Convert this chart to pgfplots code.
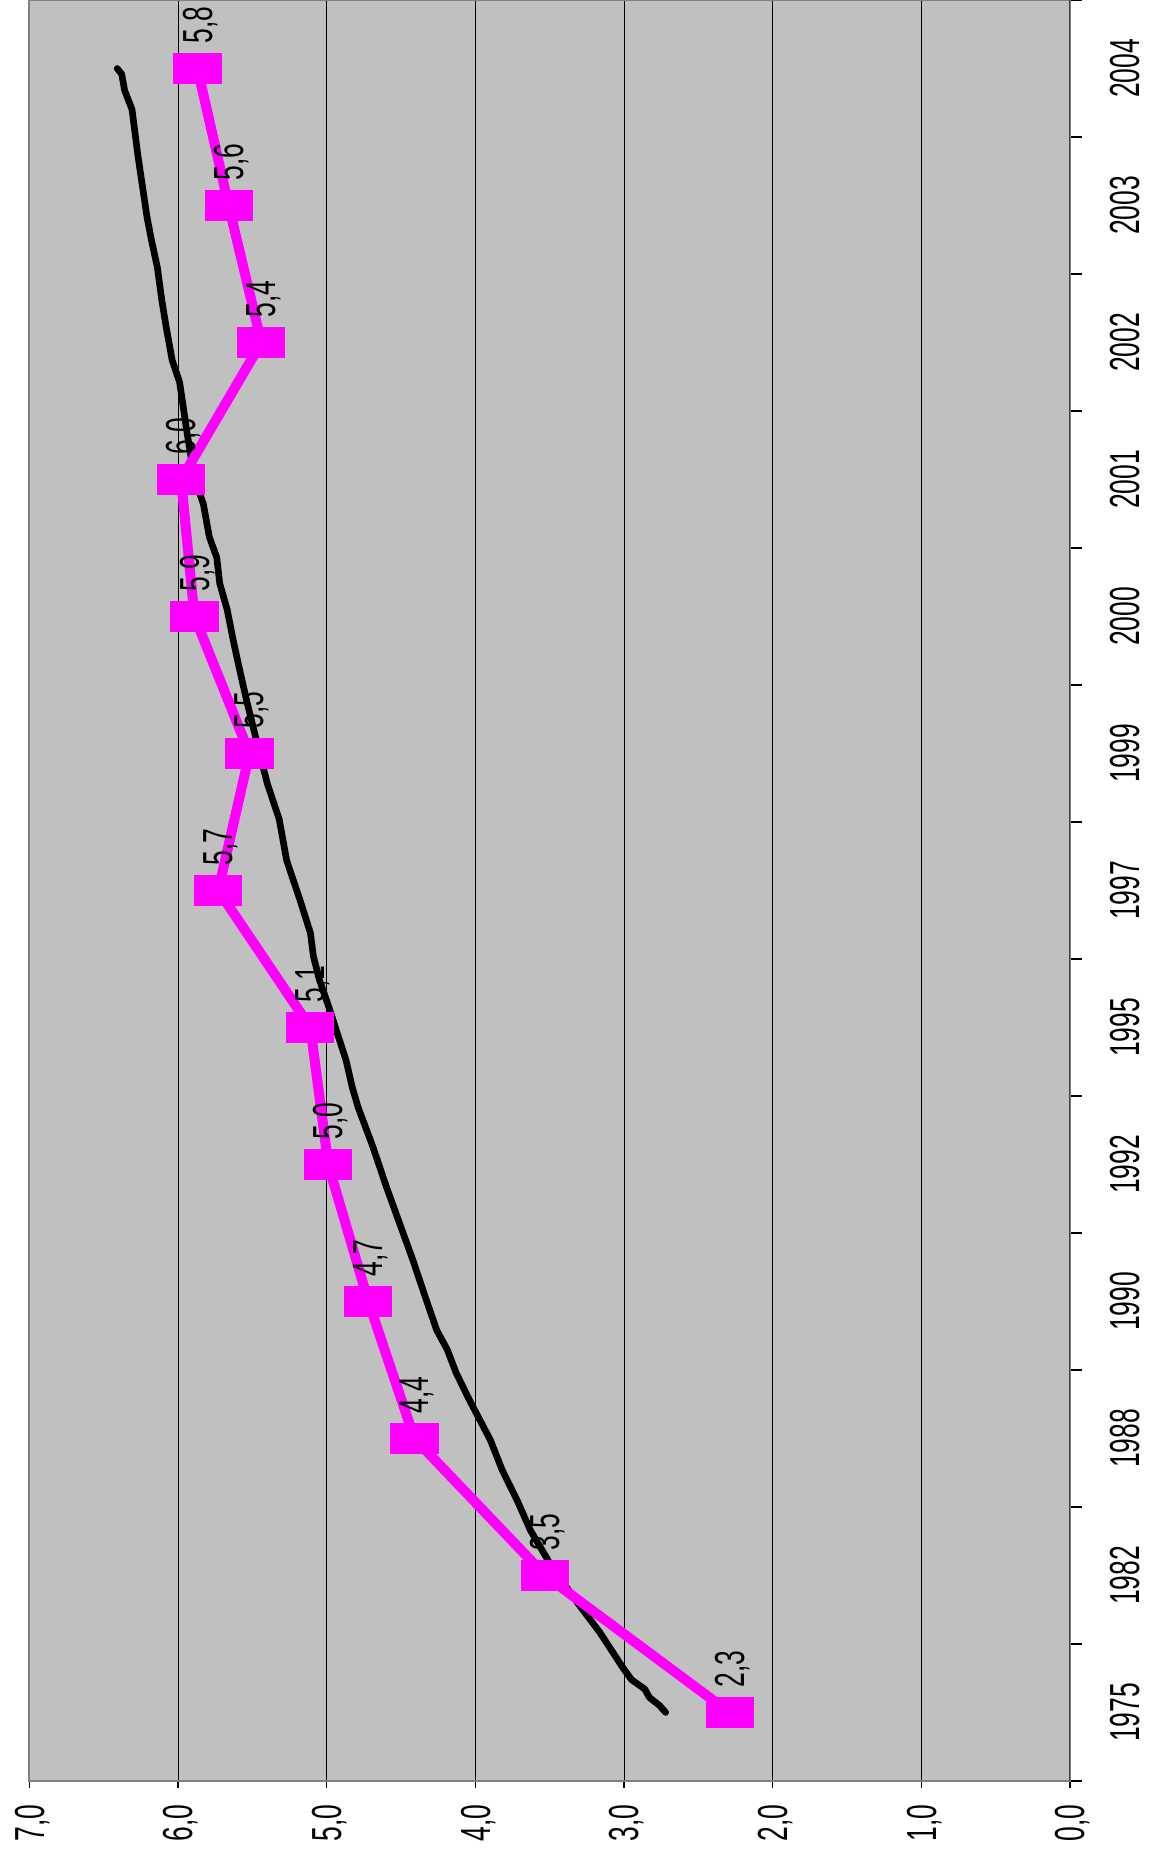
\documentclass[border=0pt]{standalone}
\usepackage{pgfplots}
\pgfplotsset{compat=1.18}
\usepackage{fontspec}
\setmainfont{Liberation Sans}
\definecolor{bg}{HTML}{C0C0C0}
\definecolor{mag}{HTML}{FF00FF}
\definecolor{bord}{HTML}{808080}
\newcommand{\lf}{\fontsize{12.6}{15}\selectfont}
\begin{document}
\begin{tikzpicture}
\useasboundingbox (0,0) rectangle (344.7pt,556.5pt);
\begin{axis}[
  at={(8.85pt,22.2pt)}, anchor=south west,
  scale only axis, width=312.15pt, height=534.3pt,
  xmin=0, xmax=7, x dir=reverse,
  ymin=-0.5, ymax=12.5,
  axis background/.style={fill=bg},
  axis line style={draw=bord, line width=0.6pt},
  xtick={0,1,...,7},
  xmajorgrids, grid style={black, line width=0.3pt},
  tick align=outside,
  xtick pos=left, xticklabel pos=left,
  ytick pos=right, yticklabel pos=right,
  major tick length=2pt, minor tick length=3.6pt,
  tick style={black, line width=0.4pt},
  ytick={0,1,...,12},
  yticklabels={1975,1982,1988,1990,1992,1995,1997,1999,2000,2001,2002,2003,2004},
  minor ytick={-0.5,0.5,...,12.5},
  major y tick style={draw=none},
  /pgf/number format/fixed, /pgf/number format/fixed zerofill,
  /pgf/number format/precision=1, /pgf/number format/use comma,
  /pgf/number format/assume math mode=true,
  xticklabel style={font=\lf, inner sep=0pt, text depth=0pt, yshift=-5pt, rotate=90, xscale=0.63, anchor=east},
  yticklabel style={font=\lf, inner sep=0pt, text depth=0pt, xshift=10pt, rotate=90, xscale=0.63, anchor=north},
]
\addplot[black, line width=2pt, line join=round, line cap=round] table[x=v, y=i, row sep=\\] {
v i\\
2.72 0.00\\
2.76 0.05\\
2.83 0.11\\
2.86 0.17\\
2.95 0.24\\
3.01 0.33\\
3.16 0.58\\
3.34 0.84\\
3.50 1.09\\
3.63 1.33\\
3.72 1.55\\
3.82 1.77\\
3.90 1.99\\
4.04 2.28\\
4.13 2.48\\
4.19 2.65\\
4.26 2.79\\
4.33 3.01\\
4.42 3.30\\
4.51 3.57\\
4.60 3.84\\
4.69 4.13\\
4.79 4.42\\
4.83 4.57\\
4.87 4.76\\
4.93 4.96\\
4.98 5.13\\
5.05 5.35\\
5.09 5.52\\
5.11 5.69\\
5.18 5.93\\
5.27 6.22\\
5.32 6.52\\
5.40 6.78\\
5.47 7.08\\
5.54 7.39\\
5.59 7.63\\
5.63 7.83\\
5.67 8.05\\
5.72 8.24\\
5.74 8.43\\
5.79 8.58\\
5.83 8.82\\
5.89 9.01\\
5.94 9.34\\
5.99 9.71\\
6.04 9.87\\
6.08 10.11\\
6.11 10.31\\
6.14 10.55\\
6.18 10.75\\
6.21 10.92\\
6.24 11.14\\
6.27 11.36\\
6.29 11.53\\
6.31 11.70\\
6.36 11.84\\
6.38 11.96\\
6.41 12.00\\
};
\addplot[mag, line width=3pt, line join=round, mark=square*, mark size=4.5pt,
  mark options={fill=mag, draw=mag, line width=0pt, xscale=1.57},
  point meta=explicit symbolic, nodes near coords,
  nodes near coords style={font=\lf, text=black, inner sep=0pt, text depth=0pt, yshift=7.5pt, rotate=90, xscale=0.63, anchor=west}]
  table[x=v, y=i, meta=lab, row sep=\\] {
v i lab\\
2.29 0 2,3\\
3.53 1 3,5\\
4.41 2 4,4\\
4.72 3 4,7\\
4.99 4 5,0\\
5.11 5 5,1\\
5.73 6 5,7\\
5.52 7 5,5\\
5.89 8 5,9\\
5.98 9 6,0\\
5.44 10 5,4\\
5.66 11 5,6\\
5.87 12 5,8\\
};
\draw[black!75, line width=0.6pt] (axis cs:0,-0.5) -- (axis cs:0,12.5);
\end{axis}
\end{tikzpicture}
\end{document}
